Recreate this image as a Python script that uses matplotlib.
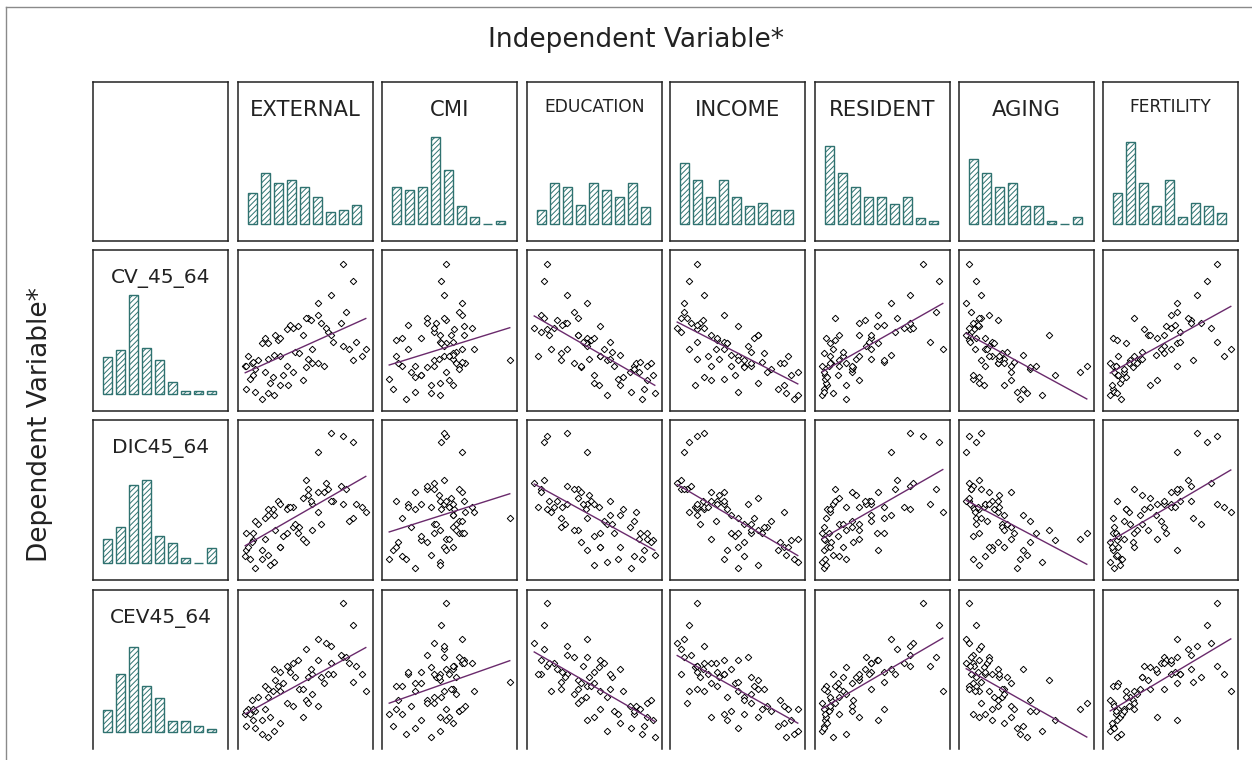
import numpy as np
import matplotlib.pyplot as plt
from matplotlib.lines import Line2D

plt.rcParams['font.family'] = ['DejaVu Sans']
plt.rcParams['hatch.linewidth'] = 0.7

# one value per region (dependent variables)
cv_45_64 = [12, 8, 28, 22, 15, 10, 35, 28, 5, 28, 16, 30, 24, 24, 9, 19,
            32, 18, 48, 35, 26, 40, 33, 22, 30, 50, 44, 20, 38, 27, 46, 31, 15, 37,
            48, 30, 45, 55, 62, 36, 58, 42, 54, 28, 56, 44, 52, 60, 40, 50, 57, 33,
            58, 64, 45, 62, 35, 66, 32, 55, 40, 50,
            100, 88, 78, 72]
dic45_64 = [18, 10, 14, 25, 20, 6, 20, 30, 12, 30, 8, 24, 26, 34, 15, 12,
            36, 26, 40, 20, 38, 50, 42, 28, 44, 32, 18, 46, 36, 24, 52, 30, 48, 34,
            50, 32, 52, 48, 60, 42, 36, 50, 46, 58, 30, 46, 60, 52, 38, 54, 48, 56,
            62, 58, 50, 66, 48, 60, 40, 64, 44, 52,
            96, 92, 98, 85]
cev45_64 = [14, 10, 22, 18, 16, 12, 26, 30, 8, 24, 20, 32, 26, 28, 6, 22,
            34, 20, 42, 38, 24, 50, 40, 44, 28, 46, 18, 38, 48, 32, 42, 26, 55, 40,
            52, 36, 50, 58, 30, 54, 48, 62, 56, 44, 60, 34, 50, 54, 58, 40, 52, 48,
            64, 60, 56, 68, 50, 62, 45, 72, 38, 58,
            100, 85, 70, 75]

# independent variables
external = [3, 25, 2, 8, 30, 10, 4, 35, 15, 3, 22, 7, 18, 40, 20, 6,
            12, 48, 18, 30, 10, 55, 20, 32, 60, 26, 15, 24, 42, 50, 28, 8, 36, 45,
            30, 55, 72, 40, 52, 25, 62, 80, 35, 65, 44, 20, 68, 54, 85, 48, 38, 52,
            78, 60, 90, 50, 95, 82, 88, 66, 98, 70,
            80, 88, 70, 60]
cmi = [8, 45, 15, 30, 55, 25, 10, 40, 18, 60, 45, 12, 50, 22, 38, 5,
       40, 52, 15, 48, 60, 20, 55, 30, 65, 45, 50, 25, 58, 35, 10, 62, 38, 55,
       30, 58, 45, 70, 35, 55, 42, 48, 56, 25, 64, 46, 40, 50, 62, 54, 20, 44,
       35, 62, 55, 48, 52, 60, 100, 40, 72, 64,
       50, 46, 48, 62]
education = [88, 60, 80, 95, 70, 78, 55, 90, 86, 65, 50, 93, 84, 77, 96, 68,
             60, 90, 45, 55, 80, 30, 62, 50, 82, 38, 45, 72, 64, 40, 48, 85, 54, 25,
             50, 35, 62, 20, 38, 70, 28, 45, 15, 40, 55, 44, 10, 22, 58, 38, 26, 46,
             30, 10, 42, 12, 8, 35, 25, 5, 18, 16,
             15, 12, 30, 45]
income = [80, 95, 55, 90, 85, 50, 88, 60, 92, 45, 65, 82, 95, 72, 86, 40,
          55, 30, 62, 50, 75, 40, 20, 48, 85, 65, 42, 25, 60, 55, 35, 68, 18, 70,
          35, 60, 40, 25, 12, 45, 22, 58, 20, 30, 50, 42, 8, 24, 34, 65, 20, 36,
          15, 40, 20, 8, 28, 10, 50, 5, 14, 30,
          20, 14, 25, 10]
resident = [3, 2, 15, 4, 6, 3, 8, 2, 20, 7, 5, 9, 3, 25, 10, 4,
            15, 30, 5, 18, 25, 10, 40, 14, 8, 30, 45, 6, 18, 26, 12, 50, 20, 3,
            40, 20, 38, 65, 12, 55, 30, 36, 70, 25, 44, 8, 58, 35, 40, 15, 50, 28,
            70, 45, 85, 60, 30, 90, 50, 72, 95, 40,
            80, 92, 70, 55]
aging = [45, 60, 15, 70, 30, 40, 20, 95, 42, 55, 10, 25, 90, 35, 48, 5,
         28, 35, 8, 18, 50, 15, 30, 5, 25, 65, 20, 10, 32, 50, 2, 38, 14, 28,
         15, 30, 20, 5, 12, 45, 8, 18, 6, 35, 10, 22, 4, 25, 16, 2, 9, 26,
         5, 18, 3, 10, 26, 4, 12, 2, 7, 0,
         2, 8, 12, 0]
fertility = [12, 10, 14, 15, 11, 13, 16, 12, 18, 14, 17, 10, 20, 13, 15, 19,
             25, 45, 12, 28, 20, 55, 32, 16, 24, 38, 60, 22, 34, 27, 15, 28, 40, 50,
             45, 30, 62, 55, 28, 44, 78, 50, 35, 60, 52, 22, 62, 70, 48, 40, 58, 34,
             70, 55, 90, 68, 95, 60, 72, 85, 100, 50,
             90, 82, 75, 60]

# histogram bar heights (counts per bin)
hist_external = [9, 15, 12, 13, 11, 8, 3.5, 4, 5.5]
hist_cmi = [11, 10, 11, 25.5, 16, 5.4, 2, 0, 1]
hist_education = [4, 12, 11, 5.5, 12, 10, 8, 12, 5]
hist_income = [18, 13, 8, 13, 8, 5.3, 6.3, 4, 4]
hist_resident = [23, 15, 11, 8, 8, 6, 8, 1.7, 1]
hist_aging = [19, 15, 11, 12, 5.3, 5.3, 1, 0, 2]
hist_fertility = [9, 24, 12, 5.3, 13, 2, 6.3, 5.3, 3.3]
hist_cv = [11, 13, 29, 13.5, 10, 3.5, 1, 1, 1]
hist_dic = [7, 10.5, 23, 24.5, 8, 6, 1.5, 0, 4.5]
hist_cev = [6.5, 17, 25, 13.5, 10, 3.3, 3.3, 1.8, 1]

indep = [('EXTERNAL', external, hist_external),
         ('CMI', cmi, hist_cmi),
         ('EDUCATION', education, hist_education),
         ('INCOME', income, hist_income),
         ('RESIDENT', resident, hist_resident),
         ('AGING', aging, hist_aging),
         ('FERTILITY', fertility, hist_fertility)]
dep = [('CV_45_64', cv_45_64, hist_cv),
       ('DIC45_64', dic45_64, hist_dic),
       ('CEV45_64', cev45_64, hist_cev)]

teal = '#2f7270'
line_col = '#6a2a6c'
W, H = 1252, 760
col_x = [93, 238, 382, 527, 670, 815, 959, 1103]
col_w = 135
row_y = [82, 250, 420, 590]
row_h = [159, 161, 160, 159]

fig = plt.figure(figsize=(W / 100, H / 100), dpi=100)


def panel(c, r):
    x0, y0, h = col_x[c], row_y[r], row_h[r]
    ax = fig.add_axes([x0 / W, 1 - (y0 + h) / H, col_w / W, h / H])
    ax.set_xticks([])
    ax.set_yticks([])
    for s in ax.spines.values():
        s.set_linewidth(1.1)
        s.set_color('#222222')
    if r == 3:
        ax.spines['bottom'].set_visible(False)
    return ax


def draw_hist(ax, counts, label, fsize, ly, h):
    n = len(counts)
    w = 0.72
    ax.bar(np.arange(n), counts, width=w, color='white', edgecolor=teal,
           hatch='//////', linewidth=1.0)
    span = n - 1 + w
    total = span / 0.835
    left = -w / 2 - 0.075 * total
    ax.set_xlim(left, left + total)
    ax.set_ylim(-17 / 3.4, (h - 17) / 3.4)
    ax.text(0.5, ly, label, transform=ax.transAxes, ha='center', va='center',
            fontsize=fsize, color='#222222')


# empty corner
panel(0, 0)

for c, (name, vals, counts) in enumerate(indep):
    ax = panel(c + 1, 0)
    small = name in ('EDUCATION', 'FERTILITY')
    draw_hist(ax, counts, name, 12.3 if small else 15.2, 0.843 if small else 0.824, row_h[0])

for r, (dname, yv, counts) in enumerate(dep):
    ax = panel(0, r + 1)
    draw_hist(ax, counts, dname, 14.5, 0.82, row_h[r + 1])
    yv = np.array(yv, dtype=float)
    yr = yv.max() - yv.min()
    for c, (iname, xv, _) in enumerate(indep):
        xv = np.array(xv, dtype=float)
        ax = panel(c + 1, r + 1)
        ax.plot(xv, yv, 'D', ms=3.3, mfc='white', mec='black', mew=0.7, ls='none')
        k, b = np.polyfit(xv, yv, 1)
        xs = np.array([xv.min(), xv.max()])
        ax.plot(xs, k * xs + b, color=line_col, lw=1.0)
        xr = xv.max() - xv.min()
        ax.set_xlim(xv.min() - 0.06 * xr, xv.max() + 0.06 * xr)
        ax.set_ylim(yv.min() - 0.09 * yr, yv.max() + 0.1 * yr)

fig.text(636 / W, 1 - 40 / H, 'Independent Variable*', ha='center', va='center',
         fontsize=19, color='#222222')
fig.text(40 / W, 1 - 425 / H, 'Dependent Variable*', ha='center', va='center',
         rotation=90, fontsize=19, color='#222222')

fig.add_artist(Line2D([6 / W, 6 / W], [0, 1 - 7 / H], color='#8a8a8a', lw=1))
fig.add_artist(Line2D([6 / W, 1], [1 - 7 / H, 1 - 7 / H], color='#8a8a8a', lw=1))

fig.savefig('out.png', dpi=100)
